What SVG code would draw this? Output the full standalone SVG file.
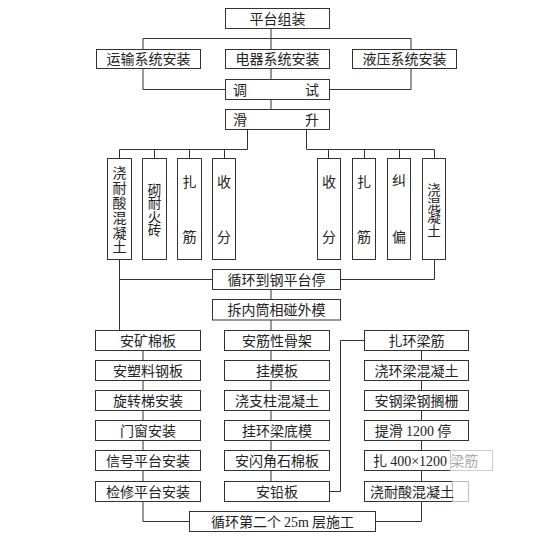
<svg xmlns="http://www.w3.org/2000/svg" width="560" height="541" viewBox="0 0 560 541">
<style>
.b{fill:#fff;stroke:#333;stroke-width:1}
.t{font-family:"Noto Sans CJK SC","Liberation Sans",sans-serif;font-size:14px;fill:#222;text-anchor:middle}
.v{font-family:"Noto Sans CJK SC","Liberation Sans",sans-serif;fill:#222;writing-mode:vertical-rl;text-anchor:start}
.s{font-family:"Liberation Serif",serif}
.c{fill:none;stroke:#333;stroke-width:1}
</style>
<rect width="560" height="541" fill="#fff"/>
<g id="connectors">
<path class="c" d="M271 28.5V49.5M143 49.5V38.5H411V49.5M143 68.5V89.5H225.5M411 68.5V89.5H329.5M271 68.5V79.5M271 99.5V109.5"/>
<path class="c" d="M247.5 129.5V149.5H119.5V158.5M154.5 149.5V158.5M189.5 149.5V158.5M224.5 149.5V158.5"/>
<path class="c" d="M306.5 129.5V149.5H434.5V158.5M328.5 149.5V158.5M364.5 149.5V158.5M399.5 149.5V158.5"/>
<path class="c" d="M119.5 259.5V330.5M119.5 279.5H212.5M434.5 259.5V279.5H340.5"/>
<path class="c" d="M271 289.5V299.5M271 320V330.5"/>
<path class="c" d="M143 350.5V360.5M143 380.5V390.5M143 410.5V420.5M143 440.5V450.5M143 470.5V481.5M143 501.5V521.5H189.5"/>
<path class="c" d="M271 350.5V360.5M271 380.5V390.5M271 410.5V420.5M271 440.5V450.5M271 470.5V481.5"/>
<path class="c" d="M329.5 491.5H340.5V340.5H364.5"/>
<path class="c" d="M421.5 350.5V360.5M421.5 380.5V390.5M421.5 410.5V420.5M421.5 440.5V450.5M421.5 470.5V481.5M421.5 501.5V521.5H375.5"/>
</g>
<g id="n_platform"><rect class="b" x="225.5" y="8.5" width="104" height="20"/><text class="t" x="277.5" y="23.5">平台组装</text></g>
<g id="n_transport"><rect class="b" x="96.5" y="49.5" width="104" height="19"/><text class="t" x="148.5" y="64">运输系统安装</text></g>
<g id="n_electric"><rect class="b" x="225.5" y="49.5" width="104" height="19"/><text class="t" x="277.5" y="64">电器系统安装</text></g>
<g id="n_hydraulic"><rect class="b" x="352.5" y="49.5" width="104" height="19"/><text class="t" x="404.5" y="64">液压系统安装</text></g>
<g id="n_debug"><rect class="b" x="225.5" y="79.5" width="104" height="20"/><text class="t" x="240" y="94.5">调</text><text class="t" x="312" y="94.5">试</text></g>
<g id="n_slide"><rect class="b" x="225.5" y="109.5" width="104" height="20"/><text class="t" x="240" y="124.5">滑</text><text class="t" x="312" y="124.5">升</text></g>
<g id="n_l1"><rect class="b" x="107.5" y="158.5" width="24" height="101"/><text class="v" x="119.5" y="166" style="font-size:14px;letter-spacing:0.8px">浇耐酸混凝土</text></g>
<g id="n_l2"><rect class="b" x="142.5" y="158.5" width="24" height="101"/><text class="v" x="154.5" y="183" style="font-size:13.5px">砌耐火砖</text></g>
<g id="n_l3"><rect class="b" x="177.5" y="158.5" width="24" height="101"/><text class="t" x="189.5" y="187">扎</text><text class="t" x="189.5" y="242">筋</text></g>
<g id="n_l4"><rect class="b" x="212.5" y="158.5" width="23" height="101"/><text class="t" x="224" y="187">收</text><text class="t" x="224" y="242">分</text></g>
<g id="n_r1"><rect class="b" x="317.5" y="158.5" width="23" height="101"/><text class="t" x="329" y="187">收</text><text class="t" x="329" y="242">分</text></g>
<g id="n_r2"><rect class="b" x="352.5" y="158.5" width="23" height="101"/><text class="t" x="364" y="187">扎</text><text class="t" x="364" y="242">筋</text></g>
<g id="n_r3"><rect class="b" x="387.5" y="158.5" width="23" height="101"/><text class="t" x="399" y="185">纠</text><text class="t" x="399" y="242">偏</text></g>
<g id="n_r4"><rect class="b" x="422.5" y="158.5" width="23" height="101"/><text class="v" x="434" y="183" style="font-size:13.5px;letter-spacing:0.2px">浇混凝土</text></g>
<g id="n_cycle1"><rect class="b" x="212.5" y="269.5" width="128" height="20"/><text class="t" x="276.5" y="284.5">循环到钢平台停</text></g>
<g id="n_dismantle"><rect class="b" x="212.5" y="299.5" width="128" height="20.5"/><text class="t" x="276.5" y="314.5">拆内筒相碰外模</text></g>
<g id="n_a1"><rect class="b" x="95.5" y="330.5" width="105" height="20"/><text class="t" x="148" y="345.5">安矿棉板</text></g>
<g id="n_a2"><rect class="b" x="95.5" y="360.5" width="105" height="20"/><text class="t" x="148" y="375.5">安塑料钢板</text></g>
<g id="n_a3"><rect class="b" x="95.5" y="390.5" width="105" height="20"/><text class="t" x="148" y="405.5">旋转梯安装</text></g>
<g id="n_a4"><rect class="b" x="95.5" y="420.5" width="105" height="20"/><text class="t" x="148" y="435.5">门窗安装</text></g>
<g id="n_a5"><rect class="b" x="95.5" y="450.5" width="105" height="20"/><text class="t" x="148" y="465.5">信号平台安装</text></g>
<g id="n_a6"><rect class="b" x="95.5" y="481.5" width="105" height="20"/><text class="t" x="148" y="496.5">检修平台安装</text></g>
<g id="n_b1"><rect class="b" x="224.5" y="330.5" width="105" height="20"/><text class="t" x="277" y="345.5">安筋性骨架</text></g>
<g id="n_b2"><rect class="b" x="224.5" y="360.5" width="105" height="20"/><text class="t" x="277" y="375.5">挂模板</text></g>
<g id="n_b3"><rect class="b" x="224.5" y="390.5" width="105" height="20"/><text class="t" x="277" y="405.5">浇支柱混凝土</text></g>
<g id="n_b4"><rect class="b" x="224.5" y="420.5" width="105" height="20"/><text class="t" x="277" y="435.5">挂环梁底模</text></g>
<g id="n_b5"><rect class="b" x="224.5" y="450.5" width="105" height="20"/><text class="t" x="277" y="465.5">安闪角石棉板</text></g>
<g id="n_b6"><rect class="b" x="224.5" y="481.5" width="105" height="20"/><text class="t" x="277" y="496.5">安铅板</text></g>
<g id="n_c1"><rect class="b" x="364.5" y="330.5" width="104" height="20"/><text class="t" x="416.5" y="345.5">扎环梁筋</text></g>
<g id="n_c2"><rect class="b" x="364.5" y="360.5" width="104" height="20"/><text class="t" x="416.5" y="375.5">浇环梁混凝土</text></g>
<g id="n_c3"><rect class="b" x="364.5" y="390.5" width="104" height="20"/><text class="t" x="416.5" y="405.5">安钢梁钢搁栅</text></g>
<g id="n_c4"><rect class="b" x="364.5" y="420.5" width="104" height="20"/><text class="t" x="413" y="435.5">提滑 <tspan class="s">1200</tspan> 停</text></g>
<g id="n_c5"><rect class="b" x="364.5" y="450.5" width="104" height="20"/><rect x="450.5" y="450.5" width="42" height="20" fill="#fff" stroke="#ccc"/><text class="t" x="373" y="465.5" style="text-anchor:start">扎 <tspan class="s">400×1200</tspan> <tspan fill="#aaa">梁筋</tspan></text></g>
<g id="n_c6"><rect class="b" x="364.5" y="481.5" width="104" height="20"/><rect x="452.5" y="481.5" width="16" height="20" fill="#fff" stroke="#bbb"/><text class="t" x="412" y="496.5">浇耐酸混凝土</text></g>
<g id="n_cycle2"><rect class="b" x="189.5" y="511.5" width="186" height="20"/><text class="t" x="282.5" y="526.5">循环第二个 <tspan class="s">25m</tspan> 层施工</text></g>
</svg>
